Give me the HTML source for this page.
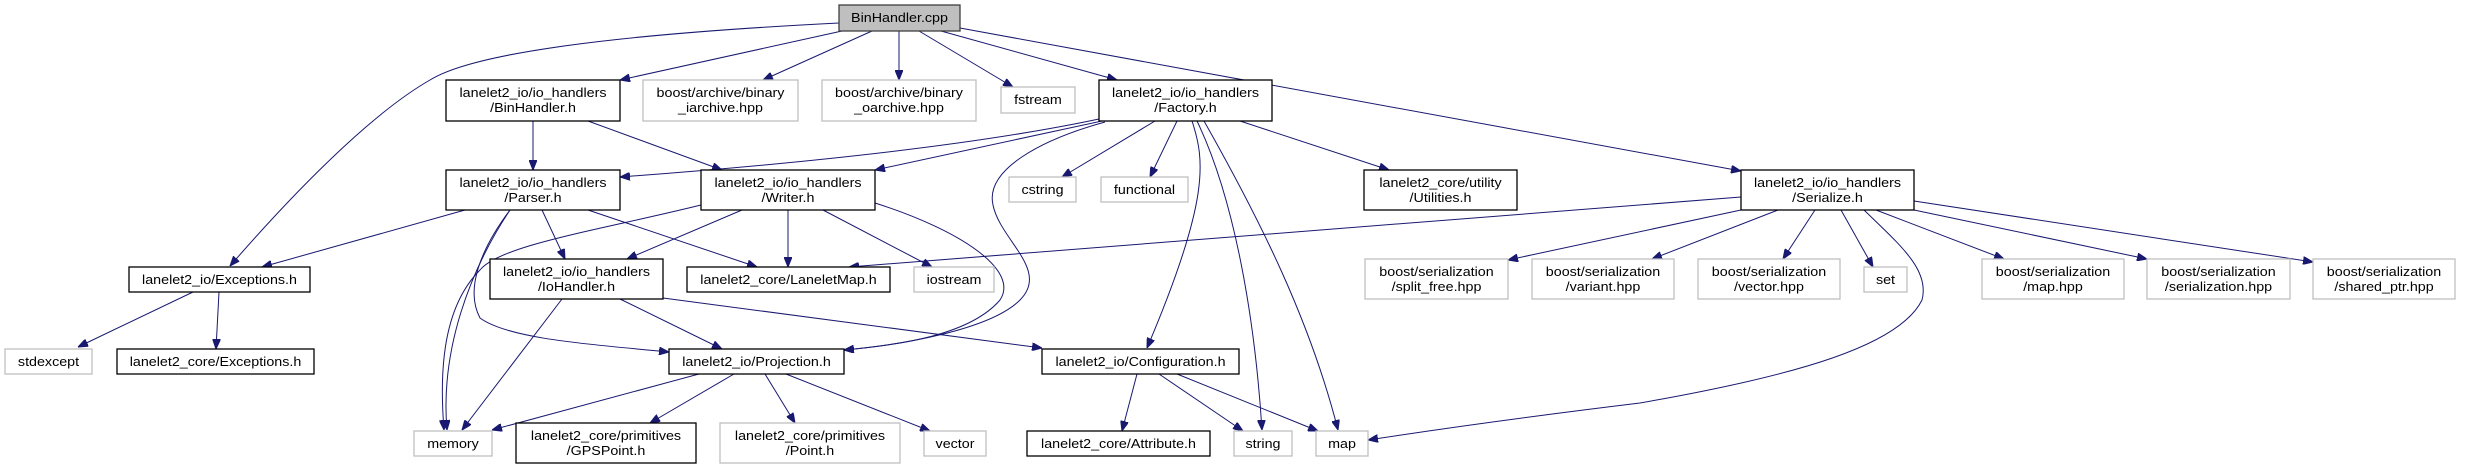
<!DOCTYPE html>
<html><head><meta charset="utf-8"><style>
html,body{margin:0;padding:0;background:#fff;}
svg{display:block;}
text{font-family:"Liberation Sans",sans-serif;font-size:13px;fill:#000;}
.d{fill:#fff;stroke:#000;stroke-width:1.3;}
.l{fill:#fff;stroke:#bfbfbf;stroke-width:1.3;}
.g{fill:#bfbfbf;stroke:#404040;stroke-width:1.3;}
path.e{fill:none;stroke:#191970;stroke-width:1;marker-end:url(#a);}
</style></head><body>
<svg width="2465" height="469" viewBox="0 0 2465 469" xmlns="http://www.w3.org/2000/svg">
<defs><marker id="a" viewBox="0 0 10 8" refX="10" refY="4" markerWidth="10" markerHeight="8" markerUnits="userSpaceOnUse" orient="auto"><path d="M0,0L10,4L0,8z" fill="#191970" stroke="#191970"/></marker></defs>
<!-- edges -->
<path class="e" d="M839,23 C600,35 470,55 430,80 C360,120 270,220 230,266"/>
<path class="e" d="M842,31 L620,80"/>
<path class="e" d="M872,31 L763,80"/>
<path class="e" d="M899,31 L899,80"/>
<path class="e" d="M919,31 L1013,87"/>
<path class="e" d="M941,31 L1117,80"/>
<path class="e" d="M960,28 L1741,171"/>
<path class="e" d="M533,121 L533,170"/>
<path class="e" d="M588,121 L722,170"/>
<path class="e" d="M1099,119 C1000,140 850,160 620,177"/>
<path class="e" d="M1102,121 L875,170"/>
<path class="e" d="M1105,122 C1040,140 985,170 993,205 C1000,240 1050,270 1020,300 C990,330 900,345 844,350"/>
<path class="e" d="M1155,121 L1062,177"/>
<path class="e" d="M1177,121 L1150,177"/>
<path class="e" d="M1240,121 L1389,170"/>
<path class="e" d="M1192,121 C1205,160 1210,200 1147,348"/>
<path class="e" d="M1197,121 C1235,200 1255,320 1262,430"/>
<path class="e" d="M1204,121 C1260,220 1310,320 1338,430"/>
<path class="e" d="M465,210 L262,267"/>
<path class="e" d="M510,210 C470,270 440,350 447,430"/>
<path class="e" d="M701,205 C600,230 500,245 480,270 C440,310 440,380 444,430"/>
<path class="e" d="M510,210 C480,250 465,290 480,318 C510,340 600,345 669,352"/>
<path class="e" d="M542,210 L565,259"/>
<path class="e" d="M588,210 L757,267"/>
<path class="e" d="M742,210 L627,259"/>
<path class="e" d="M788,210 L788,267"/>
<path class="e" d="M823,210 L932,267"/>
<path class="e" d="M875,203 C960,230 1020,270 1000,300 C970,335 900,345 844,350"/>
<path class="e" d="M1741,197 L849,267"/>
<path class="e" d="M1741,210 L1508,260"/>
<path class="e" d="M1778,210 L1652,259"/>
<path class="e" d="M1815,210 L1783,259"/>
<path class="e" d="M1841,210 L1873,267"/>
<path class="e" d="M1876,210 L2004,259"/>
<path class="e" d="M1914,210 L2147,259"/>
<path class="e" d="M1914,201 L2313,262"/>
<path class="e" d="M1864,210 C1900,245 1930,270 1922,300 C1900,345 1800,375 1640,403 C1500,420 1420,432 1368,440"/>
<path class="e" d="M193,292 L78,347"/>
<path class="e" d="M219,292 L216,349"/>
<path class="e" d="M562,299 L462,430"/>
<path class="e" d="M620,299 L722,349"/>
<path class="e" d="M663,298 L1042,348"/>
<path class="e" d="M699,374 L492,430"/>
<path class="e" d="M734,374 L650,423"/>
<path class="e" d="M765,374 L795,423"/>
<path class="e" d="M786,374 L930,431"/>
<path class="e" d="M1137,374 L1122,431"/>
<path class="e" d="M1159,374 L1243,431"/>
<path class="e" d="M1177,374 L1318,431"/>
<!-- nodes -->
<rect class="g" x="839" y="5" width="121" height="26"/>
<text transform="translate(899.5,22) scale(1.1,1)" text-anchor="middle">BinHandler.cpp</text>

<rect class="d" x="446" y="80" width="174" height="41"/>
<text transform="translate(533,97) scale(1.1,1)" text-anchor="middle">lanelet2_io/io_handlers</text>
<text transform="translate(533,112) scale(1.1,1)" text-anchor="middle">/BinHandler.h</text>

<rect class="l" x="643" y="80" width="155" height="41"/>
<text transform="translate(720.5,97) scale(1.1,1)" text-anchor="middle">boost/archive/binary</text>
<text transform="translate(720.5,112) scale(1.1,1)" text-anchor="middle">_iarchive.hpp</text>

<rect class="l" x="822" y="80" width="154" height="41"/>
<text transform="translate(899,97) scale(1.1,1)" text-anchor="middle">boost/archive/binary</text>
<text transform="translate(899,112) scale(1.1,1)" text-anchor="middle">_oarchive.hpp</text>

<rect class="l" x="1001" y="87" width="74" height="26"/>
<text transform="translate(1038,104) scale(1.1,1)" text-anchor="middle">fstream</text>

<rect class="d" x="1099" y="80" width="173" height="41"/>
<text transform="translate(1185.5,97) scale(1.1,1)" text-anchor="middle">lanelet2_io/io_handlers</text>
<text transform="translate(1185.5,112) scale(1.1,1)" text-anchor="middle">/Factory.h</text>

<rect class="d" x="1741" y="170" width="173" height="40"/>
<text transform="translate(1827.5,187) scale(1.1,1)" text-anchor="middle">lanelet2_io/io_handlers</text>
<text transform="translate(1827.5,202) scale(1.1,1)" text-anchor="middle">/Serialize.h</text>

<rect class="d" x="446" y="170" width="174" height="40"/>
<text transform="translate(533,187) scale(1.1,1)" text-anchor="middle">lanelet2_io/io_handlers</text>
<text transform="translate(533,202) scale(1.1,1)" text-anchor="middle">/Parser.h</text>

<rect class="d" x="701" y="170" width="174" height="40"/>
<text transform="translate(788,187) scale(1.1,1)" text-anchor="middle">lanelet2_io/io_handlers</text>
<text transform="translate(788,202) scale(1.1,1)" text-anchor="middle">/Writer.h</text>

<rect class="l" x="1009" y="177" width="67" height="25"/>
<text transform="translate(1042.5,194) scale(1.1,1)" text-anchor="middle">cstring</text>

<rect class="l" x="1101" y="177" width="87" height="25"/>
<text transform="translate(1144.5,194) scale(1.1,1)" text-anchor="middle">functional</text>

<rect class="d" x="1364" y="170" width="153" height="40"/>
<text transform="translate(1440.5,187) scale(1.1,1)" text-anchor="middle">lanelet2_core/utility</text>
<text transform="translate(1440.5,202) scale(1.1,1)" text-anchor="middle">/Utilities.h</text>

<rect class="d" x="129" y="267" width="181" height="25"/>
<text transform="translate(219.5,284) scale(1.1,1)" text-anchor="middle">lanelet2_io/Exceptions.h</text>

<rect class="d" x="490" y="259" width="173" height="40"/>
<text transform="translate(576.5,276) scale(1.1,1)" text-anchor="middle">lanelet2_io/io_handlers</text>
<text transform="translate(576.5,291) scale(1.1,1)" text-anchor="middle">/IoHandler.h</text>

<rect class="d" x="687" y="267" width="203" height="25"/>
<text transform="translate(788.5,284) scale(1.1,1)" text-anchor="middle">lanelet2_core/LaneletMap.h</text>

<rect class="l" x="914" y="267" width="80" height="25"/>
<text transform="translate(954,284) scale(1.1,1)" text-anchor="middle">iostream</text>

<rect class="l" x="1365" y="259" width="143" height="40"/>
<text transform="translate(1436.5,276) scale(1.1,1)" text-anchor="middle">boost/serialization</text>
<text transform="translate(1436.5,291) scale(1.1,1)" text-anchor="middle">/split_free.hpp</text>

<rect class="l" x="1532" y="259" width="142" height="40"/>
<text transform="translate(1603,276) scale(1.1,1)" text-anchor="middle">boost/serialization</text>
<text transform="translate(1603,291) scale(1.1,1)" text-anchor="middle">/variant.hpp</text>

<rect class="l" x="1698" y="259" width="142" height="40"/>
<text transform="translate(1769,276) scale(1.1,1)" text-anchor="middle">boost/serialization</text>
<text transform="translate(1769,291) scale(1.1,1)" text-anchor="middle">/vector.hpp</text>

<rect class="l" x="1864" y="267" width="43" height="25"/>
<text transform="translate(1885.5,284) scale(1.1,1)" text-anchor="middle">set</text>

<rect class="l" x="1982" y="259" width="142" height="40"/>
<text transform="translate(2053,276) scale(1.1,1)" text-anchor="middle">boost/serialization</text>
<text transform="translate(2053,291) scale(1.1,1)" text-anchor="middle">/map.hpp</text>

<rect class="l" x="2147" y="259" width="143" height="40"/>
<text transform="translate(2218.5,276) scale(1.1,1)" text-anchor="middle">boost/serialization</text>
<text transform="translate(2218.5,291) scale(1.1,1)" text-anchor="middle">/serialization.hpp</text>

<rect class="l" x="2313" y="259" width="142" height="40"/>
<text transform="translate(2384,276) scale(1.1,1)" text-anchor="middle">boost/serialization</text>
<text transform="translate(2384,291) scale(1.1,1)" text-anchor="middle">/shared_ptr.hpp</text>

<rect class="l" x="5" y="349" width="87" height="25"/>
<text transform="translate(48.5,366) scale(1.1,1)" text-anchor="middle">stdexcept</text>

<rect class="d" x="117" y="349" width="197" height="25"/>
<text transform="translate(215.5,366) scale(1.1,1)" text-anchor="middle">lanelet2_core/Exceptions.h</text>

<rect class="d" x="669" y="349" width="175" height="25"/>
<text transform="translate(756.5,366) scale(1.1,1)" text-anchor="middle">lanelet2_io/Projection.h</text>

<rect class="d" x="1042" y="349" width="197" height="25"/>
<text transform="translate(1140.5,366) scale(1.1,1)" text-anchor="middle">lanelet2_io/Configuration.h</text>

<rect class="l" x="414" y="431" width="78" height="25"/>
<text transform="translate(453,448) scale(1.1,1)" text-anchor="middle">memory</text>

<rect class="d" x="516" y="423" width="180" height="40"/>
<text transform="translate(606,440) scale(1.1,1)" text-anchor="middle">lanelet2_core/primitives</text>
<text transform="translate(606,455) scale(1.1,1)" text-anchor="middle">/GPSPoint.h</text>

<rect class="l" x="720" y="423" width="180" height="40"/>
<text transform="translate(810,440) scale(1.1,1)" text-anchor="middle">lanelet2_core/primitives</text>
<text transform="translate(810,455) scale(1.1,1)" text-anchor="middle">/Point.h</text>

<rect class="l" x="924" y="431" width="62" height="25"/>
<text transform="translate(955,448) scale(1.1,1)" text-anchor="middle">vector</text>

<rect class="d" x="1027" y="431" width="183" height="25"/>
<text transform="translate(1118.5,448) scale(1.1,1)" text-anchor="middle">lanelet2_core/Attribute.h</text>

<rect class="l" x="1234" y="431" width="58" height="25"/>
<text transform="translate(1263,448) scale(1.1,1)" text-anchor="middle">string</text>

<rect class="l" x="1316" y="431" width="52" height="25"/>
<text transform="translate(1342,448) scale(1.1,1)" text-anchor="middle">map</text>
</svg>
</body></html>
